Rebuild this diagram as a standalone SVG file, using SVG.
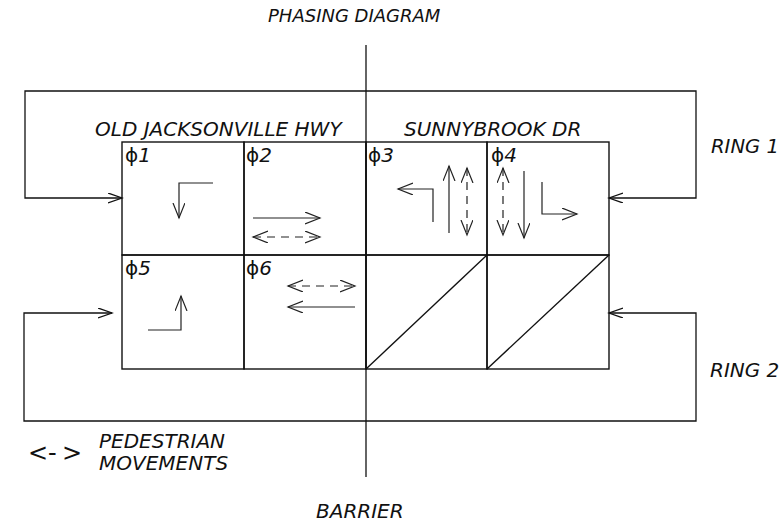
<svg xmlns="http://www.w3.org/2000/svg" width="779" height="523" viewBox="0 0 779 523">
<style>
text{font-family:"DejaVu Sans","Liberation Sans",sans-serif;fill:#111;}
.lbl{font-size:20px;font-style:italic;}
.ph{font-size:20px;}
.ph .n{font-style:italic;}
.grid{fill:none;stroke:#111;stroke-width:1.4;}
.conn{fill:none;stroke:#111;stroke-width:1.3;}
.mv{fill:none;stroke:#222;stroke-width:1.2;}
.ped{stroke-dasharray:8,6;}
</style>
<defs>
<marker id="ah" markerUnits="userSpaceOnUse" markerWidth="20" markerHeight="16" refX="15" refY="6" orient="auto-start-reverse" viewBox="0 0 20 16">
<path d="M0,0 L15,6 L0,12" fill="none" stroke="#222" stroke-width="1.2"/>
</marker>
<marker id="rh" markerUnits="userSpaceOnUse" markerWidth="18" markerHeight="14" refX="14" refY="5" orient="auto-start-reverse" viewBox="0 0 18 14">
<path d="M0,0 L14,5 L0,10" fill="none" stroke="#111" stroke-width="1.3"/>
</marker>
</defs>
<rect width="779" height="523" fill="#fff"/>
<text class="lbl" x="268" y="22" style="font-size:18px">PHASING DIAGRAM</text>
<text class="lbl" x="95" y="136">OLD JACKSONVILLE HWY</text>
<text class="lbl" x="404" y="136">SUNNYBROOK DR</text>
<text class="lbl" x="711" y="153" style="font-size:19.6px">RING 1</text>
<text class="lbl" x="710" y="377">RING 2</text>
<text class="lbl" x="316" y="518">BARRIER</text>
<g id="legend">
<text x="28" y="461" style="font-size:24px">&lt;-<tspan x="62">&gt;</tspan></text>
<text class="lbl" x="99" y="448">PEDESTRIAN</text>
<text class="lbl" x="99" y="470">MOVEMENTS</text>
</g>
<g id="connectors">
<line class="conn" x1="366" y1="45" x2="366" y2="477"/>
<path class="conn" d="M609,198 L696,198 L696,91 L25,91 L25,198 L122,198" marker-start="url(#rh)" marker-end="url(#rh)"/>
<path class="conn" d="M609,313 L696,313 L696,421 L24,421 L24,313 L112,313" marker-start="url(#rh)" marker-end="url(#rh)"/>
</g>
<g id="phase1">
<rect class="grid" x="122" y="142" width="122" height="113"/>
<text class="ph" x="125" y="162">ϕ<tspan class="n">1</tspan></text>
<path class="mv" d="M213,183 L179,183 L179,218" marker-end="url(#ah)"/>
</g>
<g id="phase2">
<rect class="grid" x="244" y="142" width="122" height="113"/>
<text class="ph" x="246" y="162">ϕ<tspan class="n">2</tspan></text>
<path class="mv" d="M253,218 L320,218" marker-end="url(#ah)"/>
<path class="mv ped" d="M253,237 L320,237" marker-start="url(#ah)" marker-end="url(#ah)"/>
</g>
<g id="phase3">
<rect class="grid" x="366" y="142" width="121" height="113"/>
<text class="ph" x="368" y="162">ϕ<tspan class="n">3</tspan></text>
<path class="mv" d="M433,222 L433,189 L398,189" marker-end="url(#ah)"/>
<path class="mv" d="M449,233 L449,166" marker-end="url(#ah)"/>
<path class="mv ped" d="M467,168 L467,235" marker-start="url(#ah)" marker-end="url(#ah)"/>
</g>
<g id="phase4">
<rect class="grid" x="487" y="142" width="122" height="113"/>
<text class="ph" x="491" y="162">ϕ<tspan class="n">4</tspan></text>
<path class="mv ped" d="M503,168 L503,235" marker-start="url(#ah)" marker-end="url(#ah)"/>
<path class="mv" d="M524,171 L524,238" marker-end="url(#ah)"/>
<path class="mv" d="M542,182 L542,214 L577,214" marker-end="url(#ah)"/>
</g>
<g id="phase5">
<rect class="grid" x="122" y="255" width="122" height="114"/>
<text class="ph" x="125" y="275">ϕ<tspan class="n">5</tspan></text>
<path class="mv" d="M148,330 L181,330 L181,296" marker-end="url(#ah)"/>
</g>
<g id="phase6">
<rect class="grid" x="244" y="255" width="122" height="114"/>
<text class="ph" x="246" y="275">ϕ<tspan class="n">6</tspan></text>
<path class="mv ped" d="M288,286 L355,286" marker-start="url(#ah)" marker-end="url(#ah)"/>
<path class="mv" d="M355,307 L288,307" marker-end="url(#ah)"/>
</g>
<g id="phase7">
<rect class="grid" x="366" y="255" width="121" height="114"/>
<line class="grid" x1="366" y1="369" x2="487" y2="255"/>
</g>
<g id="phase8">
<rect class="grid" x="487" y="255" width="122" height="114"/>
<line class="grid" x1="487" y1="369" x2="609" y2="255"/>
</g>
</svg>
